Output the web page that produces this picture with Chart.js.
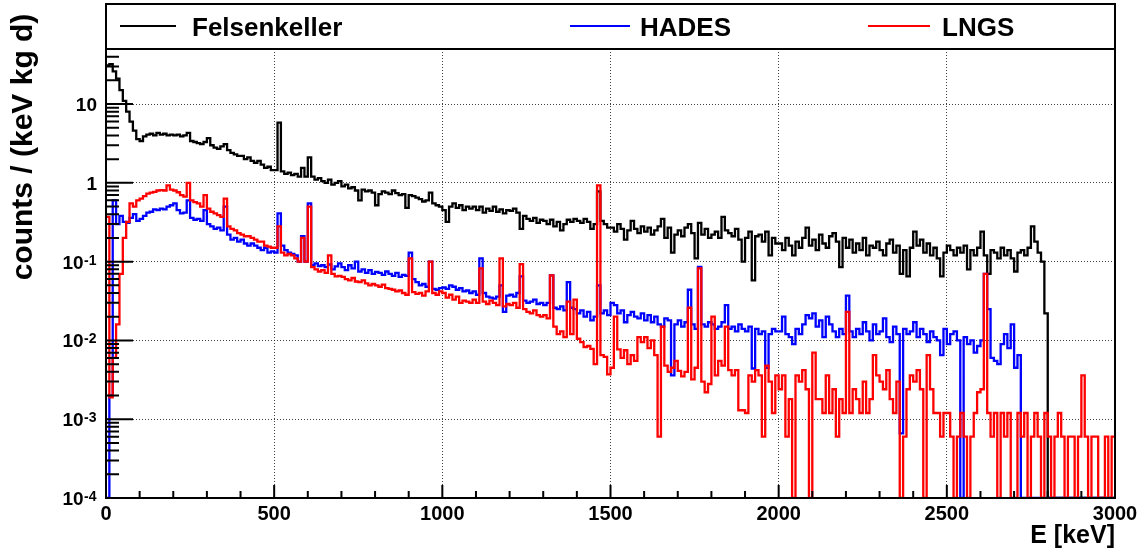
<!DOCTYPE html>
<html>
<head>
<meta charset="utf-8">
<script src="https://cdn.jsdelivr.net/npm/chart.js@4.4.0/dist/chart.umd.min.js"></script>
<style>
html, body { margin: 0; padding: 0; background: #ffffff; }
#c { display: block; }
</style>
</head>
<body>
<canvas id="c" width="1144" height="556"></canvas>
<script>
// ---------------- data (counts / (keV kg d), 10 keV bins from 0 to 3000 keV) ----------------
const BIN_WIDTH = 10; // keV
const energyBinLow = Array.from({ length: 300 }, (_, i) => i * BIN_WIDTH);

const felsenkeller = [
  31, 32, 26, 21, 15, 11, 8, 6, 4.6, 3.6,
  3.4, 3.9, 4.1, 4.2, 4.0, 4.3, 4.1, 4.2, 4.0, 4.1,
  4.0, 4.1, 3.9, 4.0, 4.3, 3.4, 3.3, 3.2, 3.1, 3.3,
  3.7, 3.0, 2.8, 2.7, 2.9, 3.1, 2.6, 2.4, 2.3, 2.2,
  2.2, 2.0, 2.1, 1.9, 1.8, 1.9, 1.7, 1.55, 1.6, 1.45,
  1.45, 5.8, 1.4, 1.3, 1.35, 1.25, 1.3, 1.2, 1.55, 1.2,
  2.1, 1.2, 1.1, 1.15, 1.05, 1.0, 1.1, 0.95, 1.0, 1.05,
  0.9, 0.95, 0.85, 0.88, 0.8, 0.6, 0.82, 0.78, 0.8, 0.75,
  0.52, 0.72, 0.78, 0.75, 0.72, 0.8, 0.74, 0.7, 0.72, 0.48,
  0.7, 0.68, 0.65, 0.62, 0.58, 0.6, 0.75, 0.55, 0.52, 0.5,
  0.45, 0.32, 0.5, 0.55, 0.48, 0.52, 0.45, 0.5, 0.47, 0.5,
  0.45, 0.5, 0.42, 0.47, 0.44, 0.5, 0.43, 0.46, 0.41, 0.45,
  0.44, 0.47, 0.42, 0.26, 0.38, 0.35, 0.33, 0.36, 0.31, 0.34,
  0.33, 0.3, 0.34, 0.28, 0.32, 0.25, 0.3, 0.34, 0.32, 0.35,
  0.33, 0.31, 0.35, 0.32, 0.26, 0.3, 0.78, 0.33, 0.3, 0.27,
  0.27, 0.24, 0.3, 0.26, 0.19, 0.25, 0.33, 0.26, 0.23, 0.28,
  0.24, 0.27, 0.22, 0.25, 0.28, 0.35, 0.2, 0.27, 0.13, 0.22,
  0.25, 0.21, 0.27, 0.3, 0.23, 0.11, 0.31, 0.22, 0.26, 0.2,
  0.22, 0.24, 0.2, 0.37, 0.25, 0.23, 0.21, 0.26, 0.19, 0.1,
  0.2, 0.24, 0.058, 0.21, 0.22, 0.18, 0.24, 0.12, 0.2, 0.17,
  0.17, 0.14, 0.2, 0.16, 0.12, 0.18, 0.15, 0.2, 0.27, 0.16,
  0.19, 0.14, 0.22, 0.17, 0.15, 0.21, 0.23, 0.18, 0.085, 0.2,
  0.15, 0.19, 0.13, 0.17, 0.14, 0.2, 0.12, 0.16, 0.15, 0.18,
  0.14, 0.12, 0.17, 0.19, 0.13, 0.16, 0.07, 0.14, 0.065, 0.15,
  0.24, 0.16, 0.19, 0.13, 0.17, 0.12, 0.15, 0.11, 0.065, 0.13,
  0.16, 0.14, 0.12, 0.15, 0.13, 0.16, 0.08, 0.14, 0.12, 0.15,
  0.24, 0.12, 0.07, 0.14, 0.13, 0.11, 0.15, 0.12, 0.14, 0.11,
  0.075, 0.13, 0.14, 0.12, 0.15, 0.28, 0.18, 0.13, 0.1, 0.022,
  0, 0, 0, 0, 0, 0, 0, 0, 0, 0,
  0, 0, 0, 0, 0, 0, 0, 0, 0, 0
];

const hades = [
  0, 0.002, 0.6, 0.3, 0.38, 0.32, 0.31, 0.36, 0.4, 0.33,
  0.35, 0.38, 0.42, 0.43, 0.46, 0.45, 0.47, 0.46, 0.5, 0.52,
  0.55, 0.45, 0.41, 0.42, 0.6, 0.36, 0.34, 0.35, 0.33, 0.45,
  0.3, 0.28, 0.26, 0.27, 0.25, 0.5, 0.22, 0.19, 0.2, 0.18,
  0.19, 0.17, 0.16, 0.17, 0.16, 0.15, 0.14, 0.15, 0.13, 0.135,
  0.13, 0.41, 0.16, 0.14, 0.13, 0.125, 0.12, 0.1, 0.21, 0.1,
  0.55, 0.09, 0.095, 0.088, 0.09, 0.085, 0.092, 0.08, 0.087, 0.095,
  0.085, 0.078, 0.09, 0.082, 0.1, 0.075, 0.08, 0.072, 0.078, 0.07,
  0.074, 0.072, 0.068, 0.075, 0.07, 0.066, 0.072, 0.064, 0.068, 0.066,
  0.13, 0.06, 0.055, 0.05, 0.052, 0.048, 0.1, 0.045, 0.044, 0.046,
  0.047, 0.045, 0.05, 0.048, 0.044, 0.046, 0.042, 0.043, 0.04, 0.042,
  0.038, 0.11, 0.04, 0.036, 0.035, 0.034, 0.036, 0.05, 0.023, 0.037,
  0.038, 0.036, 0.04, 0.065, 0.032, 0.03, 0.031, 0.033, 0.029, 0.03,
  0.028, 0.03, 0.067, 0.026, 0.025, 0.027, 0.024, 0.055, 0.026, 0.025,
  0.022, 0.024, 0.02, 0.023, 0.018, 0.02, 0.05, 0.022, 0.024, 0.021,
  0.03, 0.028, 0.022, 0.024, 0.017, 0.021, 0.023, 0.02, 0.019, 0.022,
  0.018, 0.021, 0.017, 0.02, 0.016, 0.015, 0.019, 0.018, 0.0036, 0.016,
  0.018, 0.015, 0.017, 0.044, 0.016, 0.014, 0.086, 0.016, 0.015, 0.017,
  0.016, 0.014, 0.015, 0.017, 0.028, 0.014, 0.015, 0.013, 0.016, 0.014,
  0.013, 0.015, 0.0044, 0.014, 0.012, 0.013, 0.0045, 0.012, 0.014, 0.013,
  0.013, 0.02, 0.012, 0.011, 0.009, 0.014, 0.012, 0.016, 0.021, 0.019,
  0.022, 0.015, 0.018, 0.011, 0.02, 0.016, 0.013, 0.011, 0.014, 0.012,
  0.037, 0.013, 0.011, 0.014, 0.012, 0.017, 0.013, 0.01, 0.016, 0.012,
  0.013, 0.019, 0.011, 0.0095, 0.015, 0.012, 0.00066, 0.014, 0.012, 0.013,
  0.017, 0.011, 0.014, 0.012, 0.0095, 0.013, 0.011, 0.01, 0.0065, 0.014,
  0.009, 0.012, 0.013, 0.01, 0, 0.011, 0.009, 0.01, 0.007, 0.0085,
  0.01, 0.07, 0.025, 0.006, 0.0055, 0.005, 0.009, 0.012, 0.008, 0.016,
  0.0045, 0.0065, 0, 0, 0, 0, 0, 0, 0, 0,
  0, 0, 0, 0, 0, 0, 0, 0, 0, 0,
  0, 0, 0, 0, 0, 0, 0, 0, 0, 0
];

const lngs = [
  0.37, 0.0019, 0.006, 0.016, 0.07, 0.2, 0.32, 0.55, 0.5, 0.6,
  0.63, 0.68, 0.73, 0.75, 0.77, 0.8, 0.81, 0.8, 0.93, 0.82,
  0.8, 0.76, 0.7, 0.67, 1.0, 0.6, 0.57, 0.55, 0.5, 0.7,
  0.47, 0.43, 0.41, 0.39, 0.37, 0.63, 0.28, 0.26, 0.25, 0.23,
  0.22, 0.21, 0.21, 0.2, 0.19, 0.18, 0.18, 0.16, 0.155, 0.15,
  0.15, 0.28, 0.13, 0.12, 0.125, 0.12, 0.11, 0.1, 0.2, 0.1,
  0.5, 0.085, 0.08, 0.075, 0.078, 0.072, 0.12, 0.07, 0.065, 0.066,
  0.064, 0.06, 0.058, 0.062, 0.056, 0.055, 0.058, 0.053, 0.05, 0.052,
  0.05, 0.048, 0.051, 0.046, 0.045, 0.044, 0.042, 0.043, 0.04, 0.038,
  0.11, 0.041, 0.039, 0.04, 0.037, 0.042, 0.1, 0.04, 0.038, 0.042,
  0.04, 0.035, 0.038, 0.033, 0.036, 0.03, 0.032, 0.031, 0.03, 0.033,
  0.03, 0.082, 0.031, 0.029, 0.032, 0.03, 0.028, 0.11, 0.027, 0.029,
  0.028, 0.03, 0.026, 0.093, 0.025, 0.023, 0.022, 0.024, 0.021, 0.02,
  0.021, 0.019, 0.067, 0.015, 0.012, 0.013, 0.011, 0.031, 0.012, 0.033,
  0.0105, 0.0095, 0.0082, 0.0085, 0.0078, 0.005, 0.93, 0.0065, 0.0062, 0.0037,
  0.0045, 0.02, 0.0077, 0.006, 0.0075, 0.005, 0.0065, 0.0055, 0.011, 0.0095,
  0.011, 0.008, 0.01, 0.0065, 0.0006, 0.015, 0.0048, 0.004, 0.0045, 0.0055,
  0.0041, 0.0035, 0.004, 0.026, 0.0032, 0.0045, 0.082, 0.003, 0.0022, 0.0028,
  0.02, 0.0036, 0.0055, 0.0048, 0.015, 0.0042, 0.0036, 0.0042, 0.0013, 0.0013,
  0.0012, 0.0036, 0.003, 0.0042, 0.0036, 0.0006, 0.0048, 0.003, 0.0012, 0.0036,
  0.0024, 0.0036, 0.0006, 0.0018, 0, 0.0036, 0.003, 0.0042, 0.0024, 0,
  0.007, 0.0018, 0.0018, 0.0012, 0.0036, 0.0012, 0.0024, 0.0006, 0.0018, 0.0012,
  0.023, 0.0012, 0.0024, 0.0018, 0.0012, 0.003, 0.0012, 0.0018, 0.0065, 0.0036,
  0.003, 0.0024, 0.0042, 0.0018, 0.0012, 0.003, 0, 0.0006, 0.0024, 0.0036,
  0.003, 0.0042, 0.0024, 0, 0.0065, 0.0024, 0.0012, 0.0012, 0.0006, 0.0012,
  0.0012, 0.0006, 0, 0.0006, 0.0012, 0.0006, 0, 0.0006, 0.0012, 0.0022,
  0.0024, 0.07, 0.0012, 0.0006, 0.0012, 0, 0.0012, 0.0006, 0.0012, 0,
  0, 0.0012, 0.0006, 0.0012, 0, 0.0006, 0.0012, 0.0006, 0, 0.0012,
  0.0006, 0, 0.0006, 0.0012, 0.0006, 0, 0.0006, 0.0006, 0, 0.0006,
  0.0036, 0.0006, 0, 0.0006, 0.0006, 0, 0, 0.0006, 0, 0.0006
];

const seriesNames = ['Felsenkeller', 'HADES', 'LNGS'];
const seriesColors = ['#000000', '#0000ff', '#ff0000'];

const xTickValues = [0, 500, 1000, 1500, 2000, 2500, 3000];
const xTickLabels = ['0', '500', '1000', '1500', '2000', '2500', '3000'];
const yTickValues = [1e-4, 1e-3, 1e-2, 1e-1, 1, 10];
const yTickBase = ['10', '10', '10', '10', '1', '10'];
const yTickExponent = ['-4', '-3', '-2', '-1', '', ''];

const xTitle = 'E [keV]';
const yTitle = 'counts / (keV kg d)';

// ---------------- axis ranges ----------------
const X_MIN = 0, X_MAX = 3000;
const Y_MIN = 1e-4, Y_MAX = 50;
const X_MINOR_STEP = 100, X_MAJOR_STEP = 500;

// ---------------- helpers ----------------
// histogram as a step line: one point per bin low edge + closing edge; empty bins drawn on the axis floor
function toSteps(values) {
  const pts = values.map((v, i) => ({ x: energyBinLow[i], y: v > 0 ? v : Y_MIN }));
  const lastY = pts[pts.length - 1].y;
  pts.push({ x: energyBinLow[values.length - 1] + BIN_WIDTH, y: lastY });
  return pts;
}

const FONT = '"Liberation Sans", Arial, Helvetica, sans-serif';

const rootStyle = {
  id: 'rootStyle',
  afterDraw(chart) {
    const { ctx, chartArea: a, scales: { x, y } } = chart;
    ctx.save();
    ctx.strokeStyle = '#000';
    ctx.lineWidth = 2;
    ctx.lineCap = 'butt';

    // x ticks (inside, pointing up)
    ctx.beginPath();
    for (let v = X_MIN; v <= X_MAX; v += X_MINOR_STEP) {
      const px = x.getPixelForValue(v);
      const len = (v % X_MAJOR_STEP === 0) ? 13 : 7;
      ctx.moveTo(px, a.bottom);
      ctx.lineTo(px, a.bottom - len);
    }
    ctx.stroke();

    // y ticks (inside, pointing right)
    ctx.beginPath();
    for (const d of yTickValues) {
      for (let k = 1; k <= 9; k++) {
        const v = k * d;
        if (v < Y_MIN * 0.999 || v > Y_MAX * 1.001) continue;
        const py = y.getPixelForValue(v);
        const len = (k === 1) ? 27 : 13;
        ctx.moveTo(a.left, py);
        ctx.lineTo(a.left + len, py);
      }
    }
    ctx.stroke();

    // y tick labels: base with raised exponent
    ctx.fillStyle = '#000';
    ctx.textBaseline = 'alphabetic';
    ctx.textAlign = 'left';
    yTickValues.forEach((v, i) => {
      const py = y.getPixelForValue(v);
      const base = yTickBase[i], ex = yTickExponent[i];
      ctx.font = 'bold 19px ' + FONT;
      const bw = ctx.measureText(base).width;
      ctx.font = 'bold 14px ' + FONT;
      const ew = ex ? ctx.measureText(ex).width : 0;
      const right = ex ? a.left - 10 : a.left - 9;
      const x0 = right - bw - ew;
      ctx.font = 'bold 19px ' + FONT;
      ctx.fillText(base, x0, py + 7);
      if (ex) {
        ctx.font = 'bold 14px ' + FONT;
        ctx.fillText(ex, x0 + bw + 0.5, py + 3);
      }
    });

    // frame and legend box
    const legendTop = 4;
    ctx.strokeRect(a.left, a.top, a.right - a.left, a.bottom - a.top);
    ctx.strokeRect(a.left, legendTop, a.right - a.left, a.top - legendTop);

    // legend entries
    const sampleStart = [120, 570, 868];
    const sampleEnd = [176, 630, 930];
    const textStart = [192, 640, 942];
    const midY = 26;
    ctx.font = 'bold 26px ' + FONT;
    chart.data.datasets.forEach((ds, i) => {
      ctx.strokeStyle = ds.borderColor;
      ctx.lineWidth = 2;
      ctx.beginPath();
      ctx.moveTo(sampleStart[i], midY);
      ctx.lineTo(sampleEnd[i], midY);
      ctx.stroke();
      ctx.fillStyle = '#000';
      ctx.fillText(ds.label, textStart[i], 36);
    });

    // y-axis title
    ctx.translate(32, 147);
    ctx.rotate(-Math.PI / 2);
    ctx.font = 'bold 30px ' + FONT;
    ctx.textAlign = 'center';
    ctx.fillStyle = '#000';
    ctx.fillText(yTitle, 0, 0);
    ctx.restore();
  }
};

const datasets = [felsenkeller, hades, lngs].map((vals, i) => ({
  label: seriesNames[i],
  data: toSteps(vals),
  borderColor: seriesColors[i],
  backgroundColor: seriesColors[i],
  borderWidth: 2.3,
  stepped: true,
  pointRadius: 0,
  pointHoverRadius: 0,
  fill: false,
  tension: 0,
  order: 3 - i
}));

new Chart(document.getElementById('c'), {
  type: 'line',
  data: { datasets },
  options: {
    responsive: false,
    animation: false,
    events: [],
    layout: { padding: { top: 49, right: 29, left: 0, bottom: 0 } },
    plugins: { legend: { display: false }, tooltip: { enabled: false }, title: { display: false } },
    scales: {
      x: {
        type: 'linear',
        min: X_MIN,
        max: X_MAX,
        afterBuildTicks: (s) => { s.ticks = xTickValues.map(v => ({ value: v })); },
        afterFit: (s) => { s.height = 58; },
        ticks: {
          autoSkip: false,
          maxRotation: 0,
          padding: 4,
          color: '#000',
          font: { family: FONT, weight: 'bold', size: 20 },
          callback: (v, i) => xTickLabels[i]
        },
        grid: { color: 'rgba(0,0,0,0.75)', lineWidth: 1, drawTicks: false },
        border: { display: false, dash: [1, 2] },
        title: {
          display: true,
          text: xTitle,
          align: 'end',
          color: '#000',
          font: { family: FONT, weight: 'bold', size: 25 },
          padding: { top: 0, bottom: 5 }
        }
      },
      y: {
        type: 'logarithmic',
        min: Y_MIN,
        max: Y_MAX,
        afterBuildTicks: (s) => { s.ticks = yTickValues.map(v => ({ value: v })); },
        afterFit: (s) => { s.width = 106; },
        ticks: { display: false, autoSkip: false },
        grid: { color: 'rgba(0,0,0,0.75)', lineWidth: 1, drawTicks: false },
        border: { display: false, dash: [1, 2] }
      }
    }
  },
  plugins: [rootStyle]
});
</script>
</body>
</html>
